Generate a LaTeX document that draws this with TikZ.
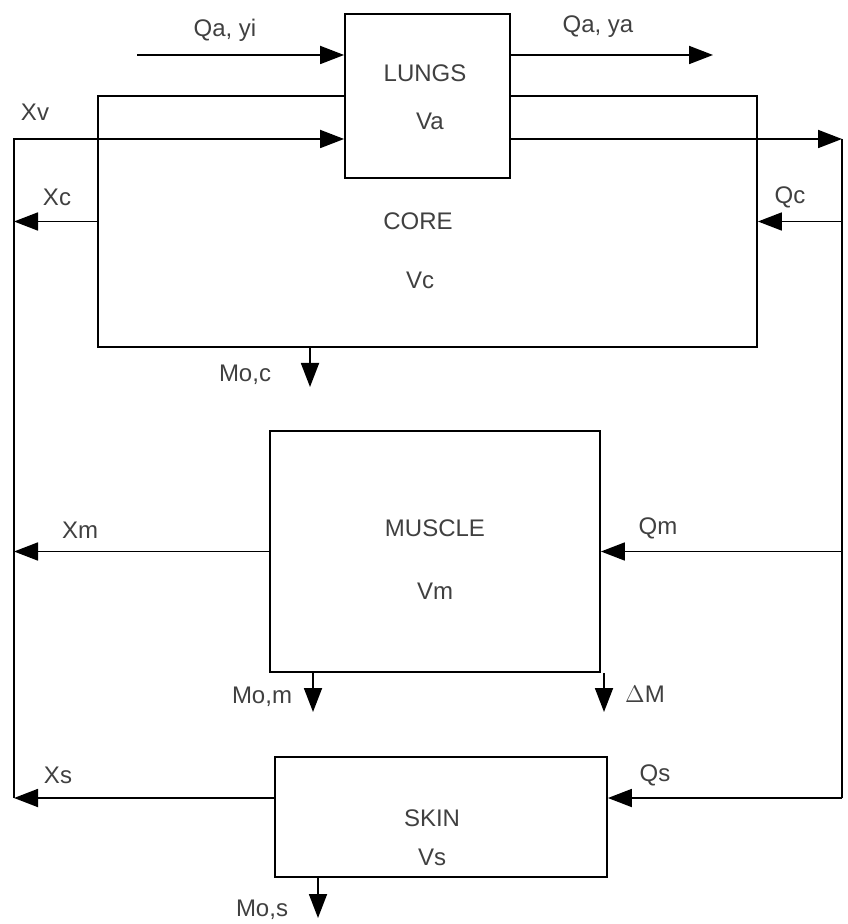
\documentclass[tikz,border=0pt]{standalone}
\usepackage{fontspec}
\setmainfont{Liberation Sans}
\usetikzlibrary{arrows.meta}

\begin{document}
\begin{tikzpicture}[x=0.5pt, y=-0.5pt, line width=0.9pt,
  box/.style={draw, fill=white, inner sep=0pt},
  arr/.style={-{Triangle[length=12pt, width=9pt]}},
  lbl/.style={font=\fontsize{12}{14}\selectfont, text=black!75}]
  \useasboundingbox (0,0) rectangle (847,924);
  % compartments
  \node[box, minimum width=329.5pt, minimum height=125.5pt] (core) at (427.5,221.5) {};
  \node[box, minimum width=82.5pt, minimum height=82pt] (lungs) at (427.5,96) {};
  \node[box, minimum width=165pt, minimum height=120.5pt] (muscle) at (435,551.5) {};
  \node[box, minimum width=166pt, minimum height=60pt] (skin) at (441,817) {};
  \node[lbl] (lungst) at (425,73) {LUNGS};
  \node[lbl] (va) at (430,121) {Va};
  \node[lbl] (coret) at (418,221) {CORE};
  \node[lbl] (vc) at (420,280) {Vc};
  \node[lbl] (musclet) at (435,528) {MUSCLE};
  \node[lbl] (vm) at (435,591) {Vm};
  \node[lbl] (skint) at (432,818) {SKIN};
  \node[lbl] (vs) at (432,857) {Vs};
  % trunk and end points
  \coordinate (qi) at (137,55);
  \coordinate (qo) at (713,55);
  \coordinate (lt) at (14,139);
  \coordinate (lb) at (14,798);
  \coordinate (rt) at (842,139);
  \coordinate (rb) at (842,798);
  \coordinate (moc) at (310,387);
  \coordinate (mom) at (313,712);
  \coordinate (dm) at (604,712);
  \coordinate (mos) at (318,918);
  % ventilation
  \draw[arr] (qi) -- (lungs.west |- qi);
  \draw[arr] (lungs.east |- qo) -- (qo);
  \node[lbl] (qayi) at (225,30) {Qa, yi};
  \node[lbl] (qaya) at (598,27) {Qa, ya};
  % venous side
  \draw[arr] (lb) -- (lt) -- (lungs.west |- lt);
  \draw[arr] (core.west) -- (lt |- core.west);
  \draw[arr] (muscle.west) -- (lt |- muscle.west);
  \draw[arr] (skin.west |- lb) -- (lb);
  \node[lbl] (xv) at (35,112) {Xv};
  \node[lbl] (xc) at (57,197) {Xc};
  \node[lbl] (xm) at (80,530) {Xm};
  \node[lbl] (xs) at (58,775) {Xs};
  % arterial side
  \draw[arr] (lungs.east |- rt) -- (rt);
  \draw (rt) -- (rb);
  \draw[arr] (rt |- core.east) -- (core.east);
  \draw[arr] (rt |- muscle.east) -- (muscle.east);
  \draw[arr] (rb) -- (skin.east |- rb);
  \node[lbl] (qc) at (790,197) {Qc};
  \node[lbl] (qm) at (658,528) {Qm};
  \node[lbl] (qs) at (655,775) {Qs};
  % metabolism
  \draw[arr] (moc |- core.south) -- (moc);
  \draw[arr] (mom |- muscle.south) -- (mom);
  \draw[arr] (dm |- muscle.south) -- (dm);
  \draw[arr] (mos |- skin.south) -- (mos);
  \node[lbl] (moct) at (245,375) {Mo,c};
  \node[lbl] (momt) at (262,697) {Mo,m};
  \node[lbl] (dmt) at (645,694) {$\Delta$M};
  \node[lbl] (most) at (262,910) {Mo,s};
\end{tikzpicture}
\end{document}
